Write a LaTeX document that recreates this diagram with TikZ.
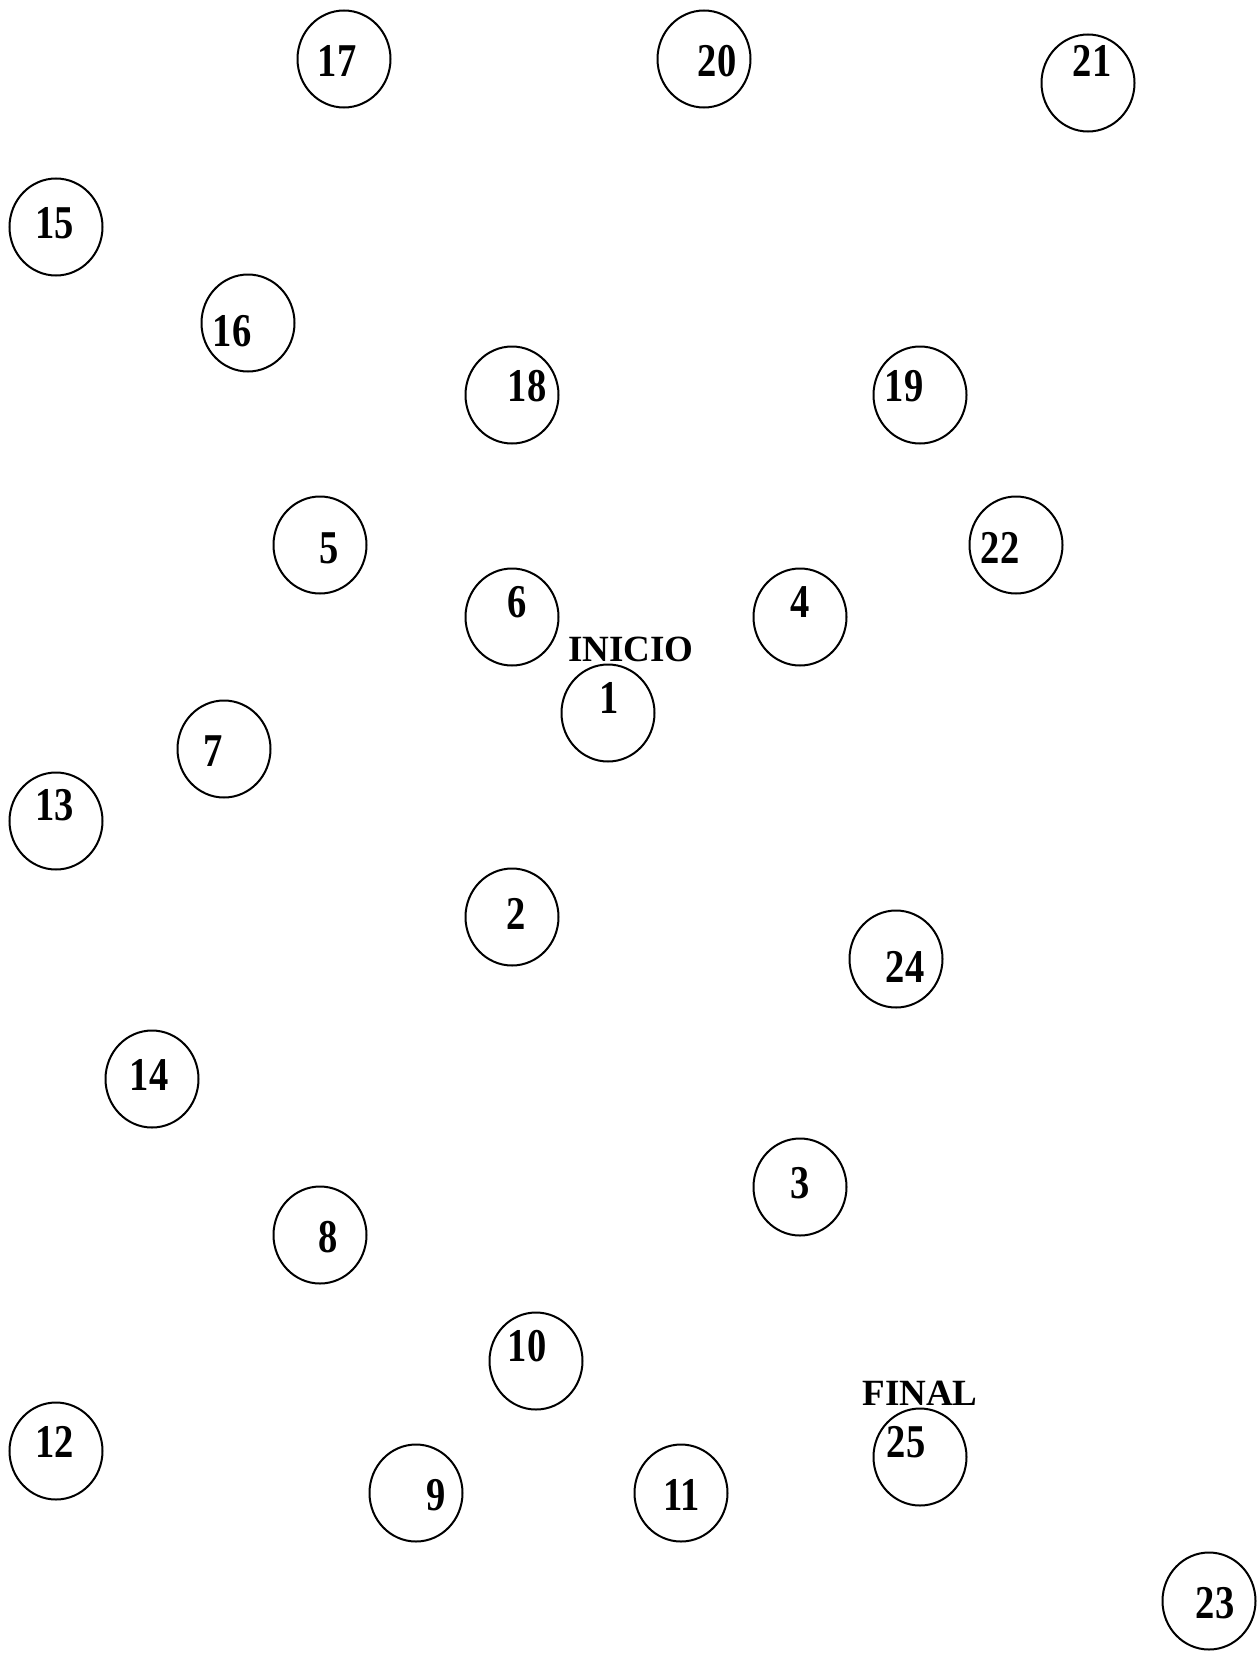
\documentclass[tikz,border=0pt]{standalone}
\usepackage{fontspec}
\setmainfont{Liberation Serif}
\newfontfamily\numfont{Liberation Serif}[FakeStretch=0.82]
\usetikzlibrary{shapes.geometric}

\tikzset{
  estado/.style={draw, ellipse, line width=1pt, minimum width=46.5pt, minimum height=48.5pt, inner sep=0pt},
  numero/.style={inner sep=0pt, font=\numfont\fontsize{23.5}{28}\selectfont\bfseries},
  rotulo/.style={inner sep=0pt, font=\fontsize{18.5}{22}\selectfont\bfseries}
}

\begin{document}
\begin{tikzpicture}[x=0.5pt, y=-0.5pt]
    \useasboundingbox (0,0) rectangle (1259,1659);

    % estados: numero / centro del circulo / posicion del numero
    \foreach \n/\cx/\cy/\tx/\ty in {
        17/344/59/337/61,     20/704/59/717/61,     21/1088/83/1092/61,
        15/56/227/55/223,     16/248/323/232/331,   18/512/395/527/386,
        19/920/395/904/386,   5/320/545/329/548,    22/1016/545/1000/548,
        6/512/617/517/602,    4/800/617/800/602,    1/608/713/609/698,
        7/224/749/213/751,    13/56/821/55/805,     2/512/917/516/914,
        24/896/959/905/967,   14/152/1079/149/1075, 3/800/1187/800/1183,
        8/320/1235/328/1237,  10/536/1361/527/1346, 12/56/1451/55/1442,
        9/416/1493/436/1495,  11/681/1493/682/1495, 25/920/1457/906/1442,
        23/1209/1601/1215/1603}
    {
        \node[estado] (e\n) at (\cx,\cy) {};
        \node[numero] (n\n) at (\tx,\ty) {\n};
    }

    % inicio y final
    \node[rotulo] (inicio) at (631,649) {INICIO};
    \node[rotulo] (final) at (920,1393) {FINAL};
\end{tikzpicture}
\end{document}
